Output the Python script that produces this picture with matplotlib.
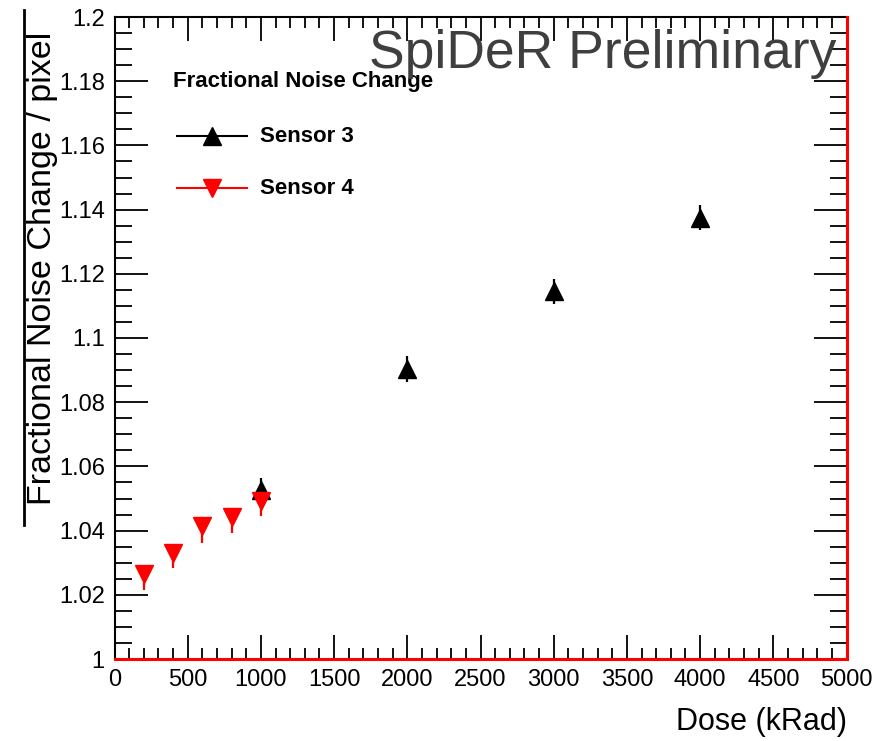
import matplotlib
matplotlib.use("Agg")
import matplotlib.pyplot as plt
from matplotlib.lines import Line2D
from matplotlib.ticker import MultipleLocator, FixedFormatter, FixedLocator

plt.rcParams['font.family'] = ['Liberation Sans', 'DejaVu Sans']

# Sensor 3 (black, upward triangles)
dose_s3 = [1000, 2000, 3000, 4000]
noise_s3 = [1.0525, 1.0903, 1.1145, 1.1375]
err_s3 = [0.004, 0.004, 0.004, 0.004]

# Sensor 4 (red, downward triangles)
dose_s4 = [200, 400, 600, 800, 1000]
noise_s4 = [1.0264, 1.0331, 1.0415, 1.0442, 1.0493]
err_s4_low = [0.0048, 0.0048, 0.0053, 0.0048, 0.0048]
err_s4_high = [0.001, 0.001, 0.001, 0.001, 0.001]

x_ticks = [0, 500, 1000, 1500, 2000, 2500, 3000, 3500, 4000, 4500, 5000]
y_ticks = [1.0, 1.02, 1.04, 1.06, 1.08, 1.1, 1.12, 1.14, 1.16, 1.18, 1.2]
y_tick_labels = ['1', '1.02', '1.04', '1.06', '1.08', '1.1', '1.12', '1.14', '1.16', '1.18', '1.2']

W, H = 888, 741
fig = plt.figure(figsize=(W / 100, H / 100), dpi=100)
L, R, T, B = 114.5, 846.5, 17, 659
ax = fig.add_axes([L / W, 1 - B / H, (R - L) / W, (B - T) / H])

ax.errorbar(dose_s3, noise_s3, yerr=err_s3, fmt='^', color='black',
            ms=12.5, elinewidth=1.6, capsize=0, zorder=3)
ax.errorbar(dose_s4, noise_s4, yerr=[err_s4_low, err_s4_high], fmt='v',
            color='#ff0000', ms=12.5, elinewidth=1.6, capsize=0, zorder=4)

ax.set_xlim(0, 5000)
ax.set_ylim(1.0, 1.2)

ax.xaxis.set_major_locator(FixedLocator(x_ticks))
ax.xaxis.set_minor_locator(MultipleLocator(100))
ax.yaxis.set_major_locator(FixedLocator(y_ticks))
ax.yaxis.set_major_formatter(FixedFormatter(y_tick_labels))
ax.yaxis.set_minor_locator(MultipleLocator(0.005))

ax.tick_params(axis='both', which='both', direction='in', top=True, right=True,
               color='black', width=1.3, labelsize=17)
ax.tick_params(axis='x', which='major', length=17, pad=7)
ax.tick_params(axis='x', which='minor', length=8)
ax.tick_params(axis='y', which='major', length=24, pad=7)
ax.tick_params(axis='y', which='minor', length=12)

for side in ['top', 'left']:
    ax.spines[side].set_linewidth(1.5)
    ax.spines[side].set_color('black')
for side in ['bottom', 'right']:
    ax.spines[side].set_linewidth(2.2)
    ax.spines[side].set_color('#ff0000')
    ax.spines[side].set_zorder(5)

# axis titles
fig.text(R / W, 1 - 722 / H, 'Dose (kRad)', ha='right', va='center', fontsize=22)
fig.text(51 / W, 1 - 268 / H, 'Fractional Noise Change / pixel', rotation=90,
         rotation_mode='anchor', ha='center', va='baseline', fontsize=24.5)
fig.add_artist(Line2D([24 / W, 24 / W], [1 - 10 / H, 1 - 525 / H],
                      transform=fig.transFigure, color='black', lw=2))

# watermark
fig.text(836 / W, 1 - 68 / H, 'SpiDeR Preliminary', ha='right', va='baseline',
         fontsize=38.5, color='#3f3f3f')

# legend block
def ax_x(px):
    return (px - L) / (R - L)

def ax_y(py):
    return (B - py) / (B - T)

ax.text(ax_x(173), ax_y(82), 'Fractional Noise Change', transform=ax.transAxes,
        ha='left', va='center', fontsize=16, fontweight='bold')
entries = [('Sensor 3', 'black', '^', 136), ('Sensor 4', '#ff0000', 'v', 188)]
for label, col, mk, py in entries:
    ax.add_line(Line2D([ax_x(177), ax_x(247)], [ax_y(py), ax_y(py)],
                       transform=ax.transAxes, color=col, lw=1.5))
    ax.add_line(Line2D([ax_x(212)], [ax_y(py)], transform=ax.transAxes,
                       color=col, marker=mk, ms=12.5, lw=0))
    ax.text(ax_x(260), ax_y(py), label, transform=ax.transAxes, ha='left',
            va='center', fontsize=16, fontweight='bold')

fig.savefig('out.png', dpi=100)
